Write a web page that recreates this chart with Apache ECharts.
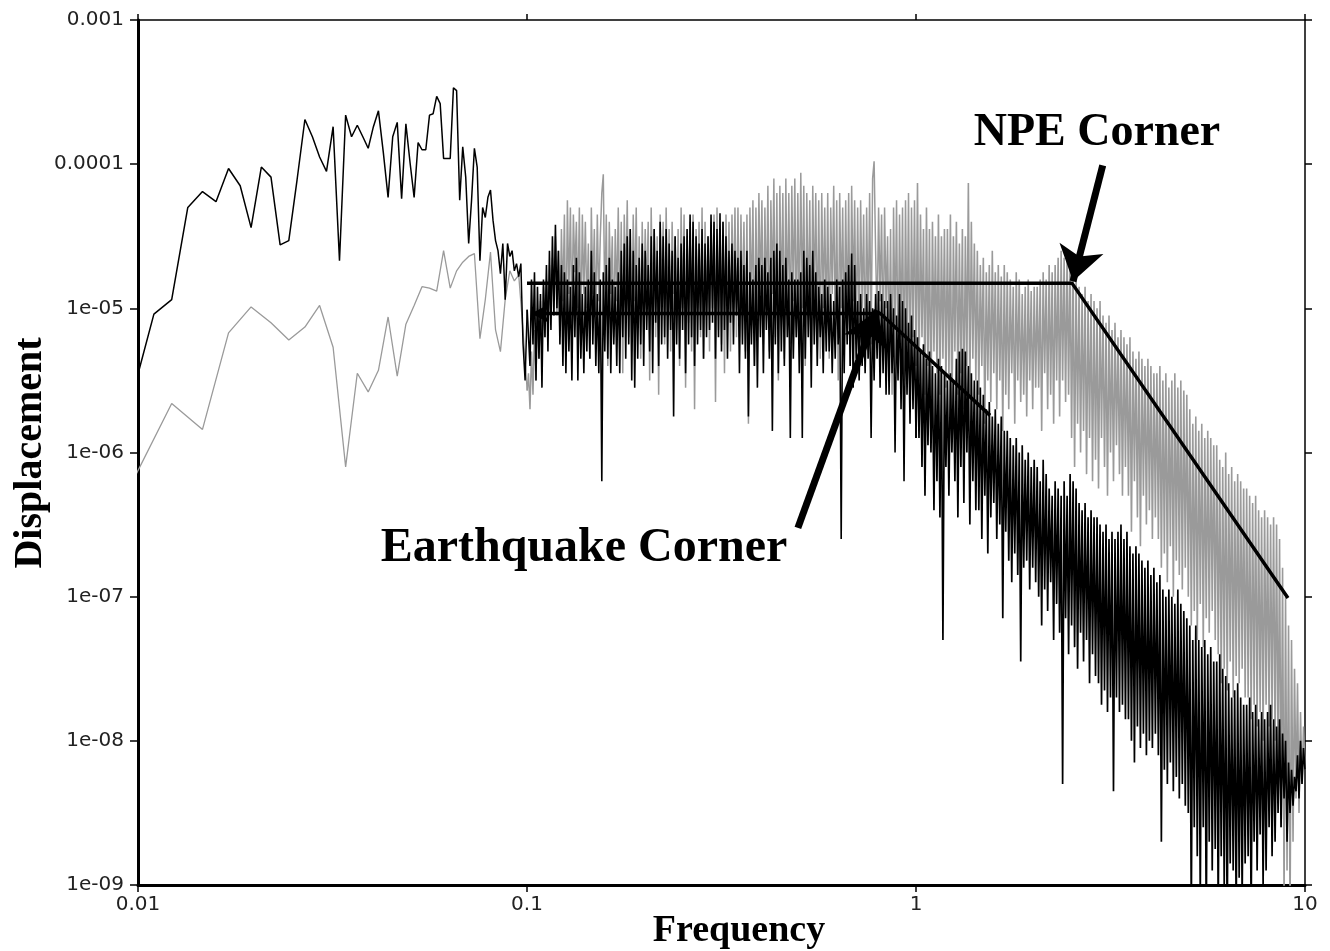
<!DOCTYPE html>
<html>
<head>
<meta charset="utf-8">
<title>Earthquake vs NPE displacement spectra</title>
<script src="https://cdn.jsdelivr.net/npm/echarts@6/dist/echarts.min.js"></script>
<style>
  html, body { margin: 0; padding: 0; background: #fff; }
  #chart { width: 1330px; height: 951px; }
</style>
</head>
<body>
<div id="chart"></div>
<script>
// FFT bin width (Hz); low-frequency points sit on k * df
const df = 1 / 819.2

// tick labels
const xTickLabels = ['0.01', '0.1', '1', '10']
const yTickLabels = ['1e-09', '1e-08', '1e-07', '1e-06', '1e-05', '0.0001', '0.001']

// earthquake spectrum (black), log10 displacement, bins k = 8..82
const quakeLowLog = [
  -5.56, -5.04, -4.94, -4.30, -4.19, -4.26, -4.03, -4.15, -4.44, -4.02,
  -4.09, -4.56, -4.53, -4.11, -3.69, -3.81, -3.95, -4.05, -3.74, -4.67,
  -3.66, -3.81, -3.73, -3.81, -3.89, -3.74, -3.63, -3.92, -4.23, -3.81,
  -3.71, -4.24, -3.72, -3.99, -4.23, -3.85, -3.90, -3.90, -3.66, -3.65,
  -3.53, -3.58, -3.96, -3.96, -3.96, -3.47, -3.49, -4.25, -3.88, -4.09,
  -4.55, -4.25, -3.89, -4.02, -4.67, -4.30, -4.37, -4.23, -4.18, -4.39,
  -4.53, -4.60, -4.76, -4.55, -4.94, -4.55, -4.64, -4.60, -4.74, -4.69,
  -4.78, -4.69, -5.24, -5.50, -5.01
]

// NPE spectrum (gray), log10 displacement, bins k = 8, 10, .., 82
const npeLowLog = [
  -6.18, -5.66, -5.84, -5.17, -4.99, -5.10, -5.22, -5.13, -4.98, -5.27,
  -6.10, -5.45, -5.58, -5.43, -5.06, -5.47, -5.11, -4.98, -4.85, -4.86,
  -4.88, -4.60, -4.86, -4.74, -4.68, -4.64, -4.62, -5.21, -4.94, -4.61,
  -5.15, -5.30, -4.94, -4.74, -4.81, -4.77, -5.15, -5.57
]

const stepsPerDecade = 260

// 0.1 - 1 Hz
const quakeMidLog = [
  -5.0, -5.4, -4.8, -5.25, -4.75, -5.5, -4.85, -5.35, -4.9, -5.55, -4.8, -5.2, -4.7, -5.3, -4.6, -5.15, -4.5, -5.05, -4.42, -5.0,
  -4.6, -5.25, -4.7, -5.4, -4.75, -5.45, -4.8, -5.3, -4.85, -5.5, -4.7, -5.2, -4.65, -5.5, -4.75, -5.35, -4.9, -5.45, -4.85, -5.3,
  -4.8, -5.35, -4.6, -5.25, -4.75, -5.4, -4.9, -5.45, -4.8, -6.2, -4.75, -5.3, -4.7, -5.35, -4.65, -5.45, -4.8, -5.25, -4.85, -5.4,
  -4.75, -5.45, -4.6, -5.2, -4.55, -5.35, -4.5, -5.25, -4.45, -5.5, -4.6, -5.55, -4.7, -5.35, -4.65, -5.25, -4.55, -5.4, -4.6, -5.15,
  -4.7, -5.3, -4.5, -5.45, -4.45, -5.1, -4.6, -5.4, -4.4, -5.25, -4.5, -5.2, -4.45, -5.35, -4.55, -5.15, -4.6, -5.75, -4.5, -5.25,
  -4.65, -5.35, -4.55, -5.15, -4.5, -5.45, -4.45, -5.25, -4.35, -5.2, -4.4, -5.4, -4.5, -5.25, -4.55, -5.15, -4.45, -5.35, -4.55, -5.2,
  -4.5, -5.15, -4.35, -5.1, -4.4, -5.35, -4.45, -5.2, -4.34, -5.3, -4.4, -5.15, -4.5, -5.35, -4.6, -5.1, -4.55, -5.25, -4.6, -5.05,
  -4.65, -5.45, -4.6, -5.25, -4.7, -5.35, -4.6, -5.75, -4.75, -5.25, -4.8, -5.4, -4.7, -5.55, -4.65, -5.2, -4.7, -5.45, -4.65, -5.15,
  -4.75, -5.35, -4.65, -5.85, -4.6, -5.25, -4.55, -5.45, -4.6, -5.3, -4.7, -5.4, -4.65, -5.2, -4.8, -5.9, -4.75, -5.35, -4.8, -5.2,
  -4.8, -5.45, -4.75, -5.9, -4.6, -5.35, -4.65, -5.2, -4.7, -5.55, -4.6, -5.25, -4.75, -5.4, -4.85, -5.2, -4.9, -5.45, -4.8, -5.3,
  -4.85, -5.3, -4.9, -5.45, -4.95, -5.35, -4.8, -5.25, -4.85, -6.6, -4.8, -5.45, -4.75, -5.25, -4.7, -5.4, -4.62, -5.55, -4.7, -5.35,
  -4.95, -5.5, -4.9, -5.4, -5.0, -5.45, -4.9, -5.35, -4.95, -5.9, -5.0, -5.5, -4.9, -5.35, -4.88, -5.55, -4.9, -5.45, -4.95, -5.6,
  -4.95, -5.6, -4.9, -5.45, -5.0, -6.0, -5.05, -5.5, -4.9, -5.7, -4.95, -6.2, -5.0, -5.6, -5.1, -5.8, -5.05, -5.7, -5.15, -5.9
]
const npeMidLog = [
  -5.45, -5.7, -5.3, -5.6, -5.15, -5.5, -5.0, -5.35, -4.95, -5.3, -4.85, -5.2, -4.8, -5.1, -4.7, -5.0, -4.65, -4.95, -4.5, -5.05,
  -4.6, -5.2, -4.45, -4.95, -4.35, -5.3, -4.25, -4.9, -4.3, -5.1, -4.35, -4.75, -4.4, -5.0, -4.3, -5.2, -4.35, -4.9, -4.4, -5.0,
  -4.55, -5.35, -4.3, -4.9, -4.45, -5.1, -4.35, -4.95, -4.5, -4.2, -4.07, -5.0, -4.35, -5.4, -4.4, -4.9, -4.5, -5.2, -4.45, -4.95,
  -4.3, -5.1, -4.4, -5.45, -4.35, -4.9, -4.25, -5.2, -4.45, -5.3, -4.35, -4.95, -4.3, -5.15, -4.5, -5.35, -4.4, -5.05, -4.45, -4.9,
  -4.4, -5.5, -4.3, -5.0, -4.45, -5.2, -4.5, -5.6, -4.35, -4.95, -4.4, -5.25, -4.3, -5.05, -4.45, -5.3, -4.4, -4.9, -4.5, -5.15,
  -4.45, -5.4, -4.3, -5.0, -4.35, -5.55, -4.5, -5.1, -4.4, -5.3, -4.35, -5.7, -4.45, -5.0, -4.4, -5.2, -4.3, -5.35, -4.4, -5.05,
  -4.5, -5.3, -4.4, -5.0, -4.35, -5.65, -4.3, -5.15, -4.45, -5.25, -4.4, -5.45, -4.35, -5.05, -4.4, -5.3, -4.35, -5.0, -4.3, -5.2,
  -4.3, -5.2, -4.35, -5.05, -4.4, -5.3, -4.35, -5.8, -4.3, -5.0, -4.25, -5.4, -4.3, -5.15, -4.2, -4.9, -4.25, -5.25, -4.3, -5.0,
  -4.15, -5.3, -4.25, -4.9, -4.1, -5.2, -4.2, -5.5, -4.15, -5.0, -4.2, -5.35, -4.1, -5.05, -4.2, -5.25, -4.15, -4.95, -4.1, -5.2,
  -4.2, -5.1, -4.06, -5.0, -4.15, -5.4, -4.2, -5.05, -4.25, -5.3, -4.15, -4.95, -4.2, -5.2, -4.25, -5.35, -4.2, -5.0, -4.3, -5.15,
  -4.2, -5.35, -4.3, -4.9, -4.15, -5.2, -4.25, -5.5, -4.2, -5.0, -4.3, -5.25, -4.25, -5.1, -4.2, -5.4, -4.15, -4.95, -4.25, -5.25,
  -4.3, -5.2, -4.25, -5.0, -4.35, -5.35, -4.3, -5.1, -4.2, -5.25, -4.1, -3.98, -4.6, -5.1, -4.3, -4.95, -4.35, -5.3, -4.3, -5.0,
  -4.5, -5.3, -4.45, -5.6, -4.3, -5.15, -4.25, -5.45, -4.35, -5.2, -4.3, -5.5, -4.25, -5.3, -4.2, -5.55, -4.3, -5.2, -4.25, -5.4
]

// 1 - 10 Hz
const quakeTopLog = [
  -5.2, -5.9, -5.3, -6.1, -5.25, -6.3, -5.35, -5.95, -5.3, -6.0, -5.4, -6.4, -5.45, -6.2, -5.35, -6.45, -5.4, -7.3, -5.45, -6.1,
  -5.5, -6.3, -5.45, -6.0, -5.5, -6.2, -5.35, -6.45, -5.3, -6.1, -5.28, -6.35, -5.3, -6.0, -5.4, -6.5, -5.45, -6.2, -5.5, -6.4,
  -5.5, -6.4, -5.55, -6.6, -5.6, -6.3, -5.7, -6.7, -5.65, -6.45, -5.75, -6.35, -5.7, -6.6, -5.8, -6.5, -5.75, -7.15, -5.85, -6.55,
  -5.85, -6.75, -5.9, -6.9, -5.95, -6.7, -5.9, -6.85, -6.0, -7.45, -5.95, -6.8, -6.05, -6.75, -6.0, -6.95, -6.1, -6.8, -6.05, -6.9,
  -6.1, -7.0, -6.2, -7.2, -6.05, -6.95, -6.15, -7.1, -6.25, -6.9, -6.3, -7.3, -6.2, -7.05, -6.25, -7.25, -6.3, -8.3, -6.2, -7.15,
  -6.3, -7.4, -6.15, -7.2, -6.2, -7.35, -6.25, -7.5, -6.35, -7.25, -6.4, -7.45, -6.35, -7.3, -6.45, -7.6, -6.4, -7.4, -6.45, -7.55,
  -6.45, -7.6, -6.5, -7.75, -6.55, -7.65, -6.5, -7.8, -6.6, -7.7, -6.55, -8.35, -6.6, -7.7, -6.55, -7.8, -6.5, -7.75, -6.6, -7.85,
  -6.55, -7.85, -6.65, -8.0, -6.7, -8.15, -6.65, -7.9, -6.7, -8.05, -6.75, -7.95, -6.8, -8.1, -6.75, -8.0, -6.85, -8.05, -6.8, -7.95,
  -6.9, -8.1, -6.85, -8.7, -6.95, -8.2, -7.0, -8.3, -6.95, -8.15, -7.0, -8.35, -7.05, -8.25, -6.95, -8.4, -7.05, -8.3, -7.1, -8.45,
  -7.15, -8.5, -7.2, -9.2, -7.3, -8.6, -7.2, -8.8, -7.3, -9.1, -7.35, -8.6, -7.3, -9.3, -7.4, -8.7, -7.35, -8.9, -7.45, -8.75,
  -7.45, -9.2, -7.4, -8.8, -7.5, -9.0, -7.55, -9.3, -7.6, -8.85, -7.7, -8.9, -7.65, -9.2, -7.6, -8.95, -7.7, -9.1, -7.75, -8.85,
  -7.75, -8.8, -7.7, -9.2, -7.8, -8.7, -7.75, -8.9, -7.85, -8.65, -7.8, -9.0, -7.85, -8.9, -7.8, -8.6, -7.75, -8.8, -7.85, -8.7,
  -7.9, -8.5, -7.85, -8.6, -7.95, -8.4, -8.0, -8.7, -8.15, -8.5, -8.2, -8.45, -8.25, -8.35, -8.1, -8.4, -8.0, -8.3, -8.05, -8.2
]
const npeTopLog = [
  -4.13, -5.5, -4.35, -5.2, -4.45, -5.6, -4.3, -5.4, -4.45, -5.7, -4.4, -5.3, -4.5, -5.45, -4.35, -5.6, -4.5, -5.35, -4.45, -5.55,
  -4.45, -5.5, -4.35, -5.8, -4.5, -5.3, -4.4, -5.6, -4.55, -5.45, -4.45, -5.7, -4.5, -5.4, -4.13, -5.6, -4.4, -5.35, -4.55, -5.5,
  -4.6, -5.6, -4.7, -5.4, -4.65, -5.8, -4.75, -5.5, -4.7, -5.65, -4.6, -5.45, -4.75, -5.7, -4.7, -5.5, -4.78, -5.85, -4.7, -5.6,
  -4.75, -5.7, -4.8, -5.45, -4.85, -5.8, -4.75, -5.5, -4.8, -5.65, -4.9, -5.6, -4.85, -5.75, -4.8, -5.5, -4.88, -5.7, -4.85, -5.55,
  -4.85, -5.55, -4.8, -5.85, -4.75, -5.45, -4.8, -5.7, -4.7, -5.6, -4.75, -5.8, -4.7, -5.5, -4.65, -5.75, -4.6, -5.5, -4.65, -5.65,
  -4.6, -5.6, -4.65, -5.9, -4.7, -6.1, -4.8, -5.8, -4.85, -6.0, -4.9, -5.85, -4.85, -6.15, -4.95, -5.9, -4.9, -6.2, -4.95, -6.05,
  -5.0, -6.25, -4.95, -5.9, -5.05, -6.1, -5.1, -6.3, -5.05, -6.0, -5.15, -6.2, -5.1, -5.95, -5.2, -6.15, -5.15, -6.3, -5.2, -6.1,
  -5.25, -6.3, -5.2, -6.55, -5.3, -6.2, -5.35, -6.45, -5.3, -6.65, -5.35, -6.3, -5.4, -6.5, -5.35, -6.4, -5.4, -6.6, -5.45, -6.45,
  -5.45, -6.6, -5.4, -6.8, -5.5, -6.7, -5.45, -6.9, -5.55, -6.65, -5.5, -7.0, -5.45, -6.75, -5.55, -6.85, -5.5, -6.95, -5.57, -6.8,
  -5.6, -7.0, -5.7, -7.2, -5.8, -7.1, -5.75, -7.3, -5.85, -7.05, -5.8, -7.35, -5.9, -7.15, -5.85, -7.25, -5.9, -7.1, -5.95, -7.3,
  -5.95, -7.4, -6.05, -7.6, -6.1, -7.5, -6.0, -7.65, -6.15, -7.45, -6.1, -7.7, -6.2, -7.55, -6.15, -7.6, -6.2, -7.5, -6.25, -7.7,
  -6.25, -7.7, -6.3, -7.85, -6.35, -7.75, -6.3, -7.9, -6.4, -7.8, -6.45, -8.0, -6.4, -7.75, -6.45, -7.9, -6.5, -7.85, -6.45, -8.0,
  -6.5, -8.2, -6.6, -8.6, -6.8, -9.1, -7.0, -8.9, -7.2, -9.2, -7.3, -8.7, -7.5, -8.4, -7.6, -8.5, -7.8, -8.3, -7.9, -8.2
]

// corner-frequency guide lines and arrows, [frequency, displacement]
const npeCornerLine = [[0.1, 1.49e-5], [2.52, 1.49e-5], [9.04, 9.8e-8]]
const quakeCornerLine = [[0.1025, 9.2e-6], [0.81, 9.2e-6], [1.55, 1.81e-6]]
const npeArrow = [[3.02, 9.8e-5], [2.533, 1.54e-5]]
const quakeArrow = [[0.497, 3.0e-7], [0.794, 9.7e-6]]

function lowPart(lowLog, lowStep) {
  return lowLog.map((v, i) => [(8 + i * lowStep) * df, Math.pow(10, v)])
}
// piece on the log-spaced grid; starts from the previous piece's last point so they join up
function gridPart(prev, f0, logs) {
  const out = [prev[prev.length - 1]]
  logs.forEach((v, i) => out.push([f0 * Math.pow(10, (i + 1) / stepsPerDecade), Math.pow(10, v)]))
  return out
}

const quakeLow = lowPart(quakeLowLog, 1)
const quakeMid = gridPart(quakeLow, 0.1, quakeMidLog)
const quakeTop = gridPart(quakeMid, 1, quakeTopLog)
const npeLow = lowPart(npeLowLog, 2)
const npeMid = gridPart(npeLow, 0.1, npeMidLog)
const npeTop = gridPart(npeMid, 1, npeTopLog)

const serifBold = 'bold {size}px "Liberation Serif", "Times New Roman", serif'
function font(size) { return serifBold.replace('{size}', size) }

const chart = echarts.init(document.getElementById('chart'))

const baseX = {
  type: 'log', logBase: 10, min: 0.01, max: 10,
  splitLine: { show: false }, minorTick: { show: false }
}
const baseY = {
  type: 'log', logBase: 10, min: 1e-9, max: 1e-3,
  splitLine: { show: false }, minorTick: { show: false }
}
const gray = '#9a9a9a'

function trace(name, data, color, width, z) {
  return { name, type: 'line', data, showSymbol: false, lineStyle: { color, width }, z }
}

chart.setOption({
  animation: false,
  backgroundColor: '#fff',
  grid: { left: 138, right: 25, top: 20, bottom: 66 },
  xAxis: [
    Object.assign({}, baseX, {
      position: 'bottom',
      axisLine: { lineStyle: { color: '#000', width: 3 } },
      axisTick: { length: 7, lineStyle: { color: '#000', width: 1.5 } },
      axisLabel: {
        showMinLabel: true, showMaxLabel: true, margin: 10,
        fontFamily: 'DejaVu Sans', fontSize: 20, color: '#222',
        formatter: v => xTickLabels[Math.round(Math.log10(v)) + 2]
      }
    }),
    Object.assign({}, baseX, {
      position: 'top',
      axisLine: { lineStyle: { color: '#000', width: 1.5 } },
      axisTick: { length: 6, lineStyle: { color: '#000', width: 1.5 } },
      axisLabel: { show: false }
    })
  ],
  yAxis: [
    Object.assign({}, baseY, {
      position: 'left',
      axisLine: { lineStyle: { color: '#000', width: 3 } },
      axisTick: { length: 8, lineStyle: { color: '#000', width: 1.5 } },
      axisLabel: {
        showMinLabel: true, showMaxLabel: true, margin: 14,
        fontFamily: 'DejaVu Sans', fontSize: 20, color: '#222',
        formatter: v => yTickLabels[Math.round(Math.log10(v)) + 9]
      }
    }),
    Object.assign({}, baseY, {
      position: 'right',
      axisLine: { lineStyle: { color: '#000', width: 1.5 } },
      axisTick: { length: 7, lineStyle: { color: '#000', width: 1.5 } },
      axisLabel: { show: false }
    })
  ],
  series: [
    trace('NPE low', npeLow, gray, 1.3, 2),
    trace('NPE mid', npeMid, gray, 1.5, 2),
    trace('NPE top', npeTop, gray, 1.6, 2),
    trace('Earthquake low', quakeLow, '#000', 1.5, 3),
    trace('Earthquake mid', quakeMid, '#000', 1.6, 3),
    trace('Earthquake top', quakeTop, '#000', 1.7, 3),
    {
      name: 'NPE corner',
      type: 'line',
      data: npeCornerLine,
      showSymbol: false,
      lineStyle: { color: '#000', width: 3.5 },
      z: 5,
      markLine: {
        silent: true,
        symbol: ['none', 'arrow'],
        symbolSize: 34,
        label: { show: false },
        lineStyle: { color: '#000', width: 7, type: 'solid' },
        data: [
          [{ coord: npeArrow[0] }, { coord: npeArrow[1] }],
          [{ coord: quakeArrow[0] }, { coord: quakeArrow[1] }]
        ]
      }
    },
    {
      name: 'Earthquake corner',
      type: 'line',
      data: quakeCornerLine.map((p, i) => i === 0
        ? { value: p, symbol: 'arrow', symbolSize: [14, 18], symbolRotate: 90 }
        : { value: p, symbol: 'none' }),
      showSymbol: true,
      itemStyle: { color: '#000' },
      lineStyle: { color: '#000', width: 3.5 },
      z: 5
    }
  ],
  graphic: [
    {
      type: 'text', x: 31, y: 453, rotation: Math.PI / 2, z: 10,
      style: { text: 'Displacement', font: font(40), fill: '#000',
        align: 'center', verticalAlign: 'middle', textAlign: 'center', textVerticalAlign: 'middle' }
    },
    {
      type: 'text', x: 739, y: 931, z: 10,
      style: { text: 'Frequency', font: font(38), fill: '#000',
        align: 'center', verticalAlign: 'middle', textAlign: 'center', textVerticalAlign: 'middle' }
    },
    {
      type: 'text', x: 1097, y: 133, z: 10,
      style: { text: 'NPE Corner', font: font(46), fill: '#000',
        align: 'center', verticalAlign: 'middle', textAlign: 'center', textVerticalAlign: 'middle' }
    },
    {
      type: 'text', x: 584, y: 549, z: 10,
      style: { text: 'Earthquake Corner', font: font(48), fill: '#000',
        align: 'center', verticalAlign: 'middle', textAlign: 'center', textVerticalAlign: 'middle' }
    }
  ]
})
</script>
</body>
</html>
